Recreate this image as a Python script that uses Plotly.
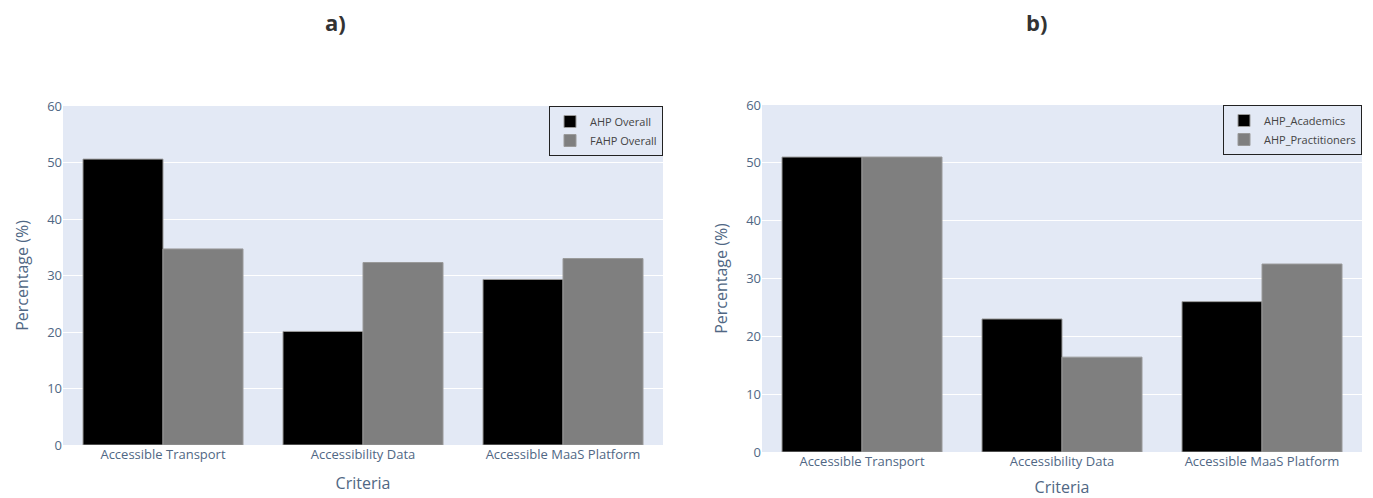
import plotly.graph_objects as go

categories = ["Accessible Transport", "Accessibility Data", "Accessible MaaS Platform"]
ahp_overall = [50.6, 20.1, 29.3]
fahp_overall = [34.7, 32.3, 33.0]
ahp_academics = [51.0, 23.0, 26.0]
ahp_practitioners = [51.0, 16.4, 32.5]
y_ticks = [0, 10, 20, 30, 40, 50, 60]

W, H = 1373, 498
def px(x): return x / W
def py(y): return 1 - y / H

fig = go.Figure()
line = dict(color="#9a9a9a", width=1)
fig.add_trace(go.Bar(x=categories, y=ahp_overall, name="AHP Overall", marker=dict(color="#000000", line=line),
                     xaxis="x", yaxis="y", legend="legend"))
fig.add_trace(go.Bar(x=categories, y=fahp_overall, name="FAHP Overall", marker=dict(color="#7f7f7f", line=line),
                     xaxis="x", yaxis="y", legend="legend"))
fig.add_trace(go.Bar(x=categories, y=ahp_academics, name="AHP_Academics", marker=dict(color="#000000", line=line),
                     xaxis="x2", yaxis="y2", legend="legend2"))
fig.add_trace(go.Bar(x=categories, y=ahp_practitioners, name="AHP_Practitioners", marker=dict(color="#7f7f7f", line=line),
                     xaxis="x2", yaxis="y2", legend="legend2"))

tickfont = dict(size=13, color="#506784")
titlefont = dict(size=16, color="#506784")
yax = dict(range=[0, 60], tickvals=y_ticks, tickfont=tickfont, gridcolor="white", zeroline=False,
           automargin=False, title=dict(text="Percentage (%)", font=titlefont, standoff=14))
xax = dict(tickfont=tickfont, automargin=False, title=dict(text="Criteria", font=titlefont))

legend_common = dict(bgcolor="rgba(0,0,0,0)", bordercolor="#222222", borderwidth=1,
                     font=dict(size=11, color="#444444"), xanchor="right", yanchor="top")

fig.update_layout(
    width=W, height=H,
    margin=dict(l=0, r=0, t=0, b=0, autoexpand=False),
    template="plotly",
    font=dict(family="Open Sans, Arial, sans-serif"),
    plot_bgcolor="#E3E9F5",
    paper_bgcolor="white",
    barmode="group",
    xaxis=dict(domain=[px(63), px(663)], anchor="y", **xax),
    yaxis=dict(domain=[py(445), py(106)], anchor="x", **yax),
    xaxis2=dict(domain=[px(762), px(1362)], anchor="y2", **xax),
    yaxis2=dict(domain=[py(452), py(105)], anchor="x2", **yax),
    legend=dict(x=px(663), y=py(106), **legend_common),
    legend2=dict(x=px(1362), y=py(105), **legend_common),
    annotations=[
        dict(text="<b>a)</b>", x=px(335), y=py(22), xref="paper", yref="paper", showarrow=False,
             font=dict(size=22, color="#333333"), xanchor="center", yanchor="middle"),
        dict(text="<b>b)</b>", x=px(1036), y=py(22), xref="paper", yref="paper", showarrow=False,
             font=dict(size=22, color="#333333"), xanchor="center", yanchor="middle"),
    ],
)

fig.write_html("out.html")
